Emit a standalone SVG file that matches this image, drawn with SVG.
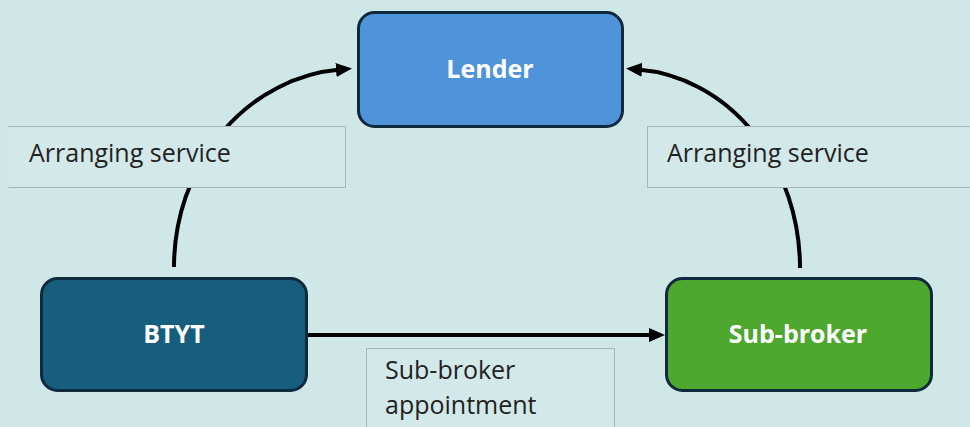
<svg xmlns="http://www.w3.org/2000/svg" width="970" height="427" viewBox="0 0 970 427">
  <style>
    .node rect { stroke: #0e2a3c; stroke-width: 3; }
    .nlabel { font-family: "Open Sans", "Noto Sans", sans-serif; font-weight: bold; font-size: 25px; fill: #ffffff; text-anchor: middle; }
    .lfill { fill: #d3e8e9; stroke: none; }
    .ledge { fill: none; stroke: #a3b5b9; stroke-width: 1; }
    .ltext { font-family: "Open Sans", "Noto Sans", sans-serif; font-size: 25px; fill: #222222; }
    .conn { fill: none; stroke: #000000; stroke-width: 4; }
  </style>
  <defs>
    <marker id="arrow" markerUnits="userSpaceOnUse" markerWidth="18" markerHeight="16" refX="4" refY="7" orient="auto">
      <path d="M0,0 L16,7 L0,14 z" fill="#000000"/>
    </marker>
  </defs>
  <rect x="0" y="0" width="970" height="427" fill="#d0e7e8"/>

  <g id="connectors">
    <path class="conn" d="M174,267 A180,198 0 0 1 340,69.6" marker-end="url(#arrow)"/>
    <path class="conn" d="M800,268 A174,199 0 0 0 638,69.5" marker-end="url(#arrow)"/>
    <path class="conn" d="M308,335 L653,335" marker-end="url(#arrow)"/>
  </g>

  <g id="label-left">
    <rect class="lfill" x="8.5" y="126.5" width="337" height="61"/>
    <path class="ledge" d="M8.5,126.5 H345.5 V187.5 H8.5"/>
    <text class="ltext" x="29" y="162">Arranging service</text>
  </g>
  <g id="label-right">
    <rect class="lfill" x="647.5" y="126.5" width="330" height="61"/>
    <path class="ledge" d="M975,126.5 H647.5 V187.5 H975"/>
    <text class="ltext" x="667" y="162">Arranging service</text>
  </g>
  <g id="label-bottom">
    <rect class="lfill" x="366.5" y="348.5" width="248" height="90"/>
    <path class="ledge" d="M366.5,430 V348.5 H614.5 V430"/>
    <text class="ltext"><tspan x="385" y="379">Sub-broker</tspan><tspan x="385" y="414">appointment</tspan></text>
  </g>

  <g id="node-lender" class="node">
    <rect x="358.5" y="12.5" width="264" height="114" rx="16" fill="#4f93d9"/>
    <text class="nlabel" x="490" y="78">Lender</text>
  </g>
  <g id="node-btyt" class="node">
    <rect x="41.5" y="278.5" width="265" height="112" rx="16" fill="#175d7e"/>
    <text class="nlabel" x="174" y="343">BTYT</text>
  </g>
  <g id="node-subbroker" class="node">
    <rect x="666.5" y="278.5" width="265" height="112" rx="16" fill="#4ea72e"/>
    <text class="nlabel" x="798" y="343">Sub-broker</text>
  </g>
</svg>
